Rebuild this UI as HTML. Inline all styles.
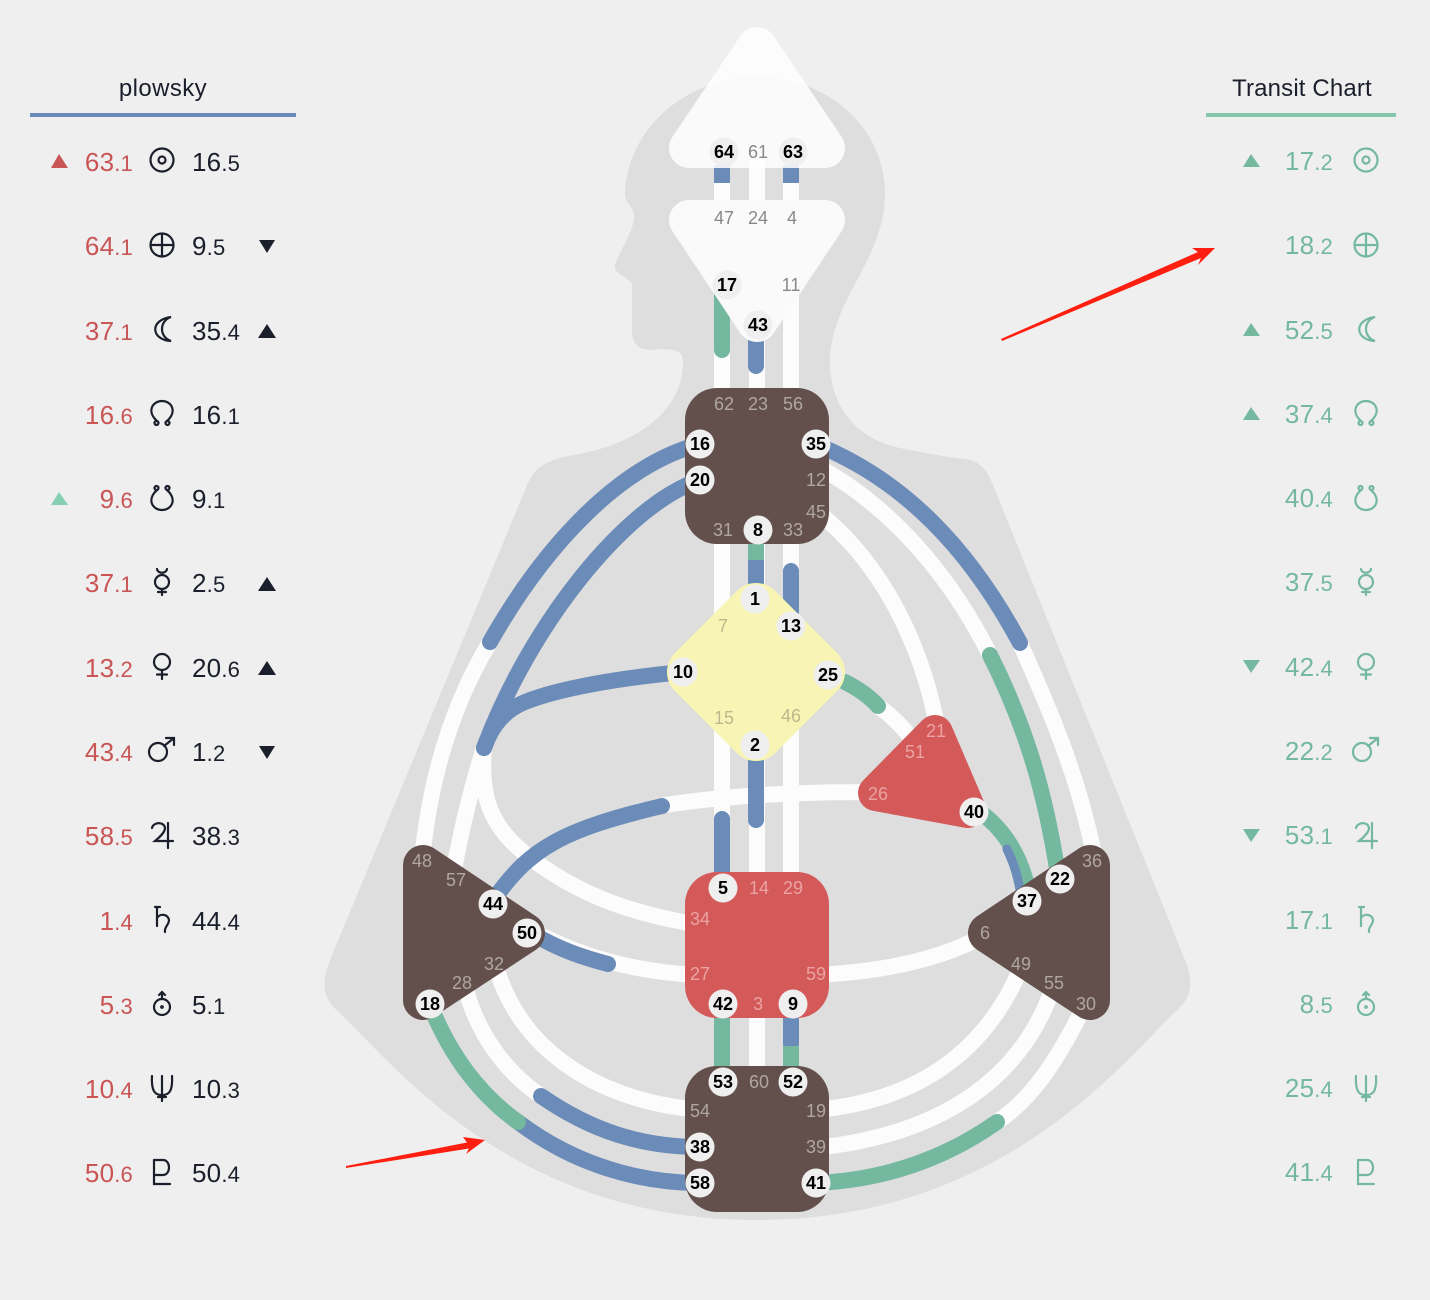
<!DOCTYPE html>
<html><head><meta charset="utf-8"><style>
html,body{margin:0;padding:0;background:#efefef}
svg{display:block}
text{font-family:"Liberation Sans",sans-serif}
.w{fill:none;stroke:#fcfcfc;stroke-width:16}
.b{fill:none;stroke:#6b8cb8;stroke-width:16;stroke-linecap:round}
.g{fill:none;stroke:#74b8a0;stroke-width:16;stroke-linecap:round}
.bb{fill:none;stroke:#6b8cb8;stroke-width:16}
.gb{fill:none;stroke:#74b8a0;stroke-width:16}
.on{font-weight:bold;font-size:18px;fill:#000;text-anchor:middle;dominant-baseline:central}
.off{font-size:18px;text-anchor:middle;dominant-baseline:central}
.l{fill:#c95555;font-size:26px;letter-spacing:.2px;text-anchor:end}
.r{fill:#74b8a0;font-size:26px;letter-spacing:.2px;text-anchor:end}
.v{fill:#1b1f2b;font-size:26px;letter-spacing:.2px}
.s{font-size:22px}
.ik{fill:none;stroke:#1b1f2b;stroke-width:2.2;stroke-linecap:round}
.ig{fill:none;stroke:#74b8a0;stroke-width:2.2;stroke-linecap:round}
</style></head><body>
<svg width="1430" height="1300" viewBox="0 0 1430 1300" xmlns="http://www.w3.org/2000/svg">
<rect width="1430" height="1300" fill="#efefef"/>
<path fill="#dedede" d="M757,77 C830,77 885,130 885,193 C885,260 830,300 830,362 C830,410 860,440 900,448 C925,453 945,457 965,459 C985,461 990,478 995,490 L1185,960 C1195,985 1190,1000 1175,1012 C1120,1065 1000,1220 757,1220 C514,1220 394,1065 339,1012 C324,1000 320,985 330,960 L528,483 C535,468 545,460 573,455 C620,448 683,420 683,362 C683,350 675,350 660,349 C645,351 632,350 632,330 L632,285 C632,278 615,275 615,267 C615,258 634,232 634,217 C634,205 625,205 625,193 C628,125 690,77 757,77 Z"/>

<!-- white channels -->
<g>
<path class="w" d="M722,160V210M757,160V210M791,160V210M722,300V400M757,320V400M791,280V400M722,530V885M757,530V885M791,530V885M722,1005V1075M757,1005V1075M791,1005V1075"/>
<path class="w" d="M490,642 C455,700 432,770 423,850"/>
<path class="w" d="M484,748 C472,785 462,825 452,880"/>
<path class="w" d="M484,748 C480,800 490,830 540,865 C590,900 640,915 700,925"/>
<path class="w" d="M497,895 C530,850 560,830 665,805 C730,795 800,792 870,792"/>
<path class="w" d="M540,935 C580,955 630,972 700,975"/>
<path class="w" d="M815,975 C880,972 940,960 985,935"/>
<path class="w" d="M466,990 C480,1040 510,1075 541,1096"/>
<path class="w" d="M497,970 C520,1045 590,1100 700,1110"/>
<path class="w" d="M1085,1005 C1055,1065 1030,1100 997,1122"/>
<path class="w" d="M1052,990 C1020,1080 940,1135 815,1148"/>
<path class="w" d="M1020,970 C990,1040 930,1100 815,1110"/>
<path class="w" d="M1095,860 C1080,780 1050,710 1020,643"/>
<path class="w" d="M815,465 C890,505 950,575 990,655"/>
<path class="w" d="M815,510 C880,560 920,640 937,725"/>
<path class="w" d="M878,706 C895,718 908,732 920,750"/>
</g>

<!-- coloured channels -->
<path class="bb" d="M722,165V183M791,165V183"/>
<path class="g" d="M722,290V350"/>
<path class="b" d="M756,320V366"/>
<path class="gb" d="M756,540V562"/>
<path class="bb" d="M756,560V595"/>
<path class="b" d="M791,571V625"/>
<path class="b" d="M756,755V820"/>
<path class="b" d="M722,819V885"/>
<path class="gb" d="M722,1015V1070"/>
<path class="b" d="M791,1015V1044"/>
<path class="gb" d="M791,1046V1070"/>
<path class="b" d="M700,444 C620,465 545,545 490,642"/>
<path class="b" d="M700,480 C625,505 530,625 484,748"/>
<path class="b" d="M683,672 C620,678 560,688 525,702 C505,710 492,725 484,748"/>
<path class="b" d="M497,895 C530,850 560,830 662,806"/>
<path class="b" d="M535,935 C560,950 585,958 608,964"/>
<path class="b" d="M518,1122 C575,1165 640,1183 700,1183"/>
<path class="g" d="M430,1005 C450,1055 480,1095 518,1122"/>
<path class="b" d="M541,1096 C590,1130 640,1147 700,1147"/>
<path class="g" d="M815,1183 C890,1180 950,1155 997,1122"/>
<path class="b" d="M815,444 C905,480 970,550 1020,643"/>
<path class="g" d="M990,655 C1025,725 1045,790 1058,875"/>
<path class="g" d="M845,682 C855,687 868,695 878,706"/>
<path class="g" d="M980,812 C1005,830 1022,858 1029,895"/>
<path class="b" d="M1007,849 C1012,860 1017,872 1020,890" style="stroke-width:9"/>

<!-- centres -->
<g opacity=".85"><path fill="#fff" stroke="#fff" stroke-width="40" stroke-linejoin="round" d="M757,47 L825,148 L689,148 Z"/></g>
<path fill="#fafafa" stroke="#fafafa" stroke-width="40" stroke-linejoin="round" d="M689,220 L825,220 L757,322 Z"/>
<rect x="685" y="388" width="144" height="156" rx="32" fill="#63504c"/>
<path fill="#f8f5b4" stroke="#f8f5b4" stroke-width="54" stroke-linejoin="round" d="M756,610 L818,672 L756,734 L694,672 Z"/>
<path fill="#d45a5a" stroke="#d45a5a" stroke-width="36" stroke-linejoin="round" d="M935,733 L876,793 L968,810 Z"/>
<rect x="685" y="872" width="144" height="146" rx="32" fill="#d45a5a"/>
<rect x="685" y="1066" width="144" height="146" rx="32" fill="#63504c"/>
<path fill="#63504c" stroke="#63504c" stroke-width="40" stroke-linejoin="round" d="M423,865 L525,933 L423,1000 Z"/>
<path fill="#63504c" stroke="#63504c" stroke-width="40" stroke-linejoin="round" d="M1090,865 L988,933 L1090,1000 Z"/>

<!-- active gates -->
<g fill="#efefef">
<circle cx="724" cy="152" r="14.5"/><circle cx="793" cy="152" r="14.5"/><circle cx="727" cy="285" r="14.5"/><circle cx="758" cy="325" r="14.5"/>
<circle cx="700" cy="444" r="14.5"/><circle cx="816" cy="444" r="14.5"/><circle cx="700" cy="480" r="14.5"/><circle cx="758" cy="530" r="14.5"/>
<circle cx="755" cy="599" r="14.5"/><circle cx="791" cy="626" r="14.5"/><circle cx="683" cy="672" r="14.5"/><circle cx="828" cy="675" r="14.5"/><circle cx="755" cy="745" r="14.5"/>
<circle cx="974" cy="812" r="14.5"/><circle cx="723" cy="888" r="14.5"/><circle cx="723" cy="1004" r="14.5"/><circle cx="793" cy="1004" r="14.5"/>
<circle cx="723" cy="1082" r="14.5"/><circle cx="793" cy="1082" r="14.5"/><circle cx="700" cy="1147" r="14.5"/><circle cx="700" cy="1183" r="14.5"/><circle cx="816" cy="1183" r="14.5"/>
<circle cx="493" cy="904" r="14.5"/><circle cx="527" cy="933" r="14.5"/><circle cx="430" cy="1004" r="14.5"/><circle cx="1060" cy="879" r="14.5"/><circle cx="1027" cy="901" r="14.5"/>
</g>
<g>
<text class="on" x="724" y="152">64</text><text class="on" x="793" y="152">63</text><text class="on" x="727" y="285">17</text><text class="on" x="758" y="325">43</text>
<text class="on" x="700" y="444">16</text><text class="on" x="816" y="444">35</text><text class="on" x="700" y="480">20</text><text class="on" x="758" y="530">8</text>
<text class="on" x="755" y="599">1</text><text class="on" x="791" y="626">13</text><text class="on" x="683" y="672">10</text><text class="on" x="828" y="675">25</text><text class="on" x="755" y="745">2</text>
<text class="on" x="974" y="812">40</text><text class="on" x="723" y="888">5</text><text class="on" x="723" y="1004">42</text><text class="on" x="793" y="1004">9</text>
<text class="on" x="723" y="1082">53</text><text class="on" x="793" y="1082">52</text><text class="on" x="700" y="1147">38</text><text class="on" x="700" y="1183">58</text><text class="on" x="816" y="1183">41</text>
<text class="on" x="493" y="904">44</text><text class="on" x="527" y="933">50</text><text class="on" x="430" y="1004">18</text><text class="on" x="1060" y="879">22</text><text class="on" x="1027" y="901">37</text>
</g>
<!-- inactive gates -->
<g fill="#888">
<text class="off" x="758" y="152">61</text><text class="off" x="724" y="218">47</text><text class="off" x="758" y="218">24</text><text class="off" x="792" y="218">4</text><text class="off" x="791" y="285">11</text>
</g>
<g fill="#b0a6a2">
<text class="off" x="724" y="404">62</text><text class="off" x="758" y="404">23</text><text class="off" x="793" y="404">56</text><text class="off" x="816" y="480">12</text><text class="off" x="816" y="512">45</text><text class="off" x="723" y="530">31</text><text class="off" x="793" y="530">33</text>
<text class="off" x="700" y="1111">54</text><text class="off" x="759" y="1082">60</text><text class="off" x="816" y="1111">19</text><text class="off" x="816" y="1147">39</text>
<text class="off" x="422" y="861">48</text><text class="off" x="456" y="880">57</text><text class="off" x="494" y="964">32</text><text class="off" x="462" y="983">28</text>
<text class="off" x="1092" y="861">36</text><text class="off" x="985" y="933">6</text><text class="off" x="1021" y="964">49</text><text class="off" x="1054" y="983">55</text><text class="off" x="1086" y="1004">30</text>
</g>
<g fill="#bdb88c">
<text class="off" x="723" y="626">7</text><text class="off" x="724" y="718">15</text><text class="off" x="791" y="716">46</text>
</g>
<g fill="#eba3a3">
<text class="off" x="936" y="731">21</text><text class="off" x="915" y="752">51</text><text class="off" x="878" y="794">26</text>
<text class="off" x="759" y="888">14</text><text class="off" x="793" y="888">29</text><text class="off" x="700" y="919">34</text><text class="off" x="700" y="974">27</text><text class="off" x="816" y="974">59</text><text class="off" x="758" y="1004">3</text>
</g>

<!-- red arrows -->
<path fill="#ff1f10" d="M1002,341 L1001,339 L1198,252 L1192,248 L1215,248 L1198,265 L1201,258 Z"/>
<path fill="#ff1f10" d="M346,1168 L346,1166 L467,1142.5 L463,1137 L485,1140 L466,1154 L469,1148.5 Z"/>

<!-- headers -->
<text x="163" y="96" font-size="24" letter-spacing=".4" fill="#1b1f2b" text-anchor="middle">plowsky</text>
<rect x="30" y="113" width="266" height="4" fill="#6b8cb8"/>
<text x="1302" y="96" font-size="24" letter-spacing=".15" fill="#1b1f2b" text-anchor="middle">Transit Chart</text>
<rect x="1206" y="113" width="190" height="4" fill="#85c7ad"/>

<!-- left numbers -->
<text class="l" x="133" y="171">63<tspan class="s">.1</tspan></text>
<text class="l" x="133" y="255">64<tspan class="s">.1</tspan></text>
<text class="l" x="133" y="340">37<tspan class="s">.1</tspan></text>
<text class="l" x="133" y="424">16<tspan class="s">.6</tspan></text>
<text class="l" x="133" y="508">9<tspan class="s">.6</tspan></text>
<text class="l" x="133" y="592">37<tspan class="s">.1</tspan></text>
<text class="l" x="133" y="677">13<tspan class="s">.2</tspan></text>
<text class="l" x="133" y="761">43<tspan class="s">.4</tspan></text>
<text class="l" x="133" y="845">58<tspan class="s">.5</tspan></text>
<text class="l" x="133" y="930">1<tspan class="s">.4</tspan></text>
<text class="l" x="133" y="1014">5<tspan class="s">.3</tspan></text>
<text class="l" x="133" y="1098">10<tspan class="s">.4</tspan></text>
<text class="l" x="133" y="1182">50<tspan class="s">.6</tspan></text>

<text class="v" x="192" y="171">16<tspan class="s">.5</tspan></text>
<text class="v" x="192" y="255">9<tspan class="s">.5</tspan></text>
<text class="v" x="192" y="340">35<tspan class="s">.4</tspan></text>
<text class="v" x="192" y="424">16<tspan class="s">.1</tspan></text>
<text class="v" x="192" y="508">9<tspan class="s">.1</tspan></text>
<text class="v" x="192" y="592">2<tspan class="s">.5</tspan></text>
<text class="v" x="192" y="677">20<tspan class="s">.6</tspan></text>
<text class="v" x="192" y="761">1<tspan class="s">.2</tspan></text>
<text class="v" x="192" y="845">38<tspan class="s">.3</tspan></text>
<text class="v" x="192" y="930">44<tspan class="s">.4</tspan></text>
<text class="v" x="192" y="1014">5<tspan class="s">.1</tspan></text>
<text class="v" x="192" y="1098">10<tspan class="s">.3</tspan></text>
<text class="v" x="192" y="1182">50<tspan class="s">.4</tspan></text>

<!-- right numbers -->
<text class="r" x="1333" y="170">17<tspan class="s">.2</tspan></text>
<text class="r" x="1333" y="254">18<tspan class="s">.2</tspan></text>
<text class="r" x="1333" y="339">52<tspan class="s">.5</tspan></text>
<text class="r" x="1333" y="423">37<tspan class="s">.4</tspan></text>
<text class="r" x="1333" y="507">40<tspan class="s">.4</tspan></text>
<text class="r" x="1333" y="591">37<tspan class="s">.5</tspan></text>
<text class="r" x="1333" y="676">42<tspan class="s">.4</tspan></text>
<text class="r" x="1333" y="760">22<tspan class="s">.2</tspan></text>
<text class="r" x="1333" y="844">53<tspan class="s">.1</tspan></text>
<text class="r" x="1333" y="929">17<tspan class="s">.1</tspan></text>
<text class="r" x="1333" y="1013">8<tspan class="s">.5</tspan></text>
<text class="r" x="1333" y="1097">25<tspan class="s">.4</tspan></text>
<text class="r" x="1333" y="1181">41<tspan class="s">.4</tspan></text>

<!-- triangles -->
<path fill="#c95555" d="M59,154 L68,168 L51,168 Z"/>
<path fill="#85cfb3" d="M59,492 L68,505 L51,505 Z"/>
<path fill="#1b1f2b" d="M259,240 L275,240 L267,253 Z"/>
<path fill="#1b1f2b" d="M267,324 L276,338 L258,338 Z"/>
<path fill="#1b1f2b" d="M267,577 L276,591 L258,591 Z"/>
<path fill="#1b1f2b" d="M267,661 L276,675 L258,675 Z"/>
<path fill="#1b1f2b" d="M259,746 L275,746 L267,759 Z"/>
<g fill="#74b8a0">
<path d="M1251,154 L1260,167 L1243,167 Z"/>
<path d="M1251,323 L1260,336 L1243,336 Z"/>
<path d="M1251,407 L1260,420 L1243,420 Z"/>
<path d="M1243,660 L1260,660 L1251,673 Z"/>
<path d="M1243,829 L1260,829 L1251,842 Z"/>
</g>

<!-- left icons -->
<g class="ik">
<g transform="translate(162,160)"><circle r="11.5"/><circle r="3.5"/></g>
<g transform="translate(162,245)"><circle r="11.5"/><path d="M-11.5,0H11.5M0,-11.5V11.5"/></g>
<g transform="translate(162,329)"><path d="M9,-12 C-13,-9 -11,11 9,12 C-3,8 -3,-8 9,-12 Z"/></g>
<g transform="translate(162,413)"><path d="M-5,8 C-16,-2 -9,-12 0,-12 C9,-12 16,-2 5,8"/><circle cx="-5.5" cy="10" r="2"/><circle cx="5.5" cy="10" r="2"/></g>
<g transform="translate(162,498)"><path d="M-5,-8 C-16,2 -9,12 0,12 C9,12 16,2 5,-8"/><circle cx="-5.5" cy="-10" r="2"/><circle cx="5.5" cy="-10" r="2"/></g>
<g transform="translate(162,582)"><circle r="7"/><path d="M-5,-13 C-4,-8 4,-8 5,-13M0,7V13M-4,10H4"/></g>
<g transform="translate(162,666)"><circle cy="-4" r="8"/><path d="M0,4V13M-5,8.5H5"/></g>
<g transform="translate(162,750)"><circle cx="-4" cy="2" r="9"/><path d="M2,-4 L12,-12M4,-12H12V-5"/></g>
<g transform="translate(162,835)"><path d="M-10,-7 C-9,-13 2,-14 3,-7 C3,-3 -1,1 -7,6 H11M6,-12V13"/></g>
<g transform="translate(162,920)"><path d="M-5,-13V6M-7,-13H-2M-5,-2 C-2,-7 6,-6 7,0 C7,5 2,7 3,12"/></g>
<g transform="translate(162,1004)"><circle cy="3" r="8"/><circle cy="3" r=".8"/><path d="M0,-5V-12M-3,-9L0,-12L3,-9"/></g>
<g transform="translate(162,1088)"><path d="M-10,-12 C-11,6 -5,7 0,7 C5,7 11,6 10,-12M0,-12V13M-4,9H4"/></g>
<g transform="translate(162,1172)"><path d="M-8,-12V12H8M-8,-12H1 C9,-12 9,3 1,3 H-8"/></g>
</g>
<!-- right icons -->
<g class="ig">
<g transform="translate(1366,160)"><circle r="11.5"/><circle r="3.5"/></g>
<g transform="translate(1366,245)"><circle r="11.5"/><path d="M-11.5,0H11.5M0,-11.5V11.5"/></g>
<g transform="translate(1366,329)"><path d="M9,-12 C-13,-9 -11,11 9,12 C-3,8 -3,-8 9,-12 Z"/></g>
<g transform="translate(1366,413)"><path d="M-5,8 C-16,-2 -9,-12 0,-12 C9,-12 16,-2 5,8"/><circle cx="-5.5" cy="10" r="2"/><circle cx="5.5" cy="10" r="2"/></g>
<g transform="translate(1366,498)"><path d="M-5,-8 C-16,2 -9,12 0,12 C9,12 16,2 5,-8"/><circle cx="-5.5" cy="-10" r="2"/><circle cx="5.5" cy="-10" r="2"/></g>
<g transform="translate(1366,582)"><circle r="7"/><path d="M-5,-13 C-4,-8 4,-8 5,-13M0,7V13M-4,10H4"/></g>
<g transform="translate(1366,666)"><circle cy="-4" r="8"/><path d="M0,4V13M-5,8.5H5"/></g>
<g transform="translate(1366,750)"><circle cx="-4" cy="2" r="9"/><path d="M2,-4 L12,-12M4,-12H12V-5"/></g>
<g transform="translate(1366,835)"><path d="M-10,-7 C-9,-13 2,-14 3,-7 C3,-3 -1,1 -7,6 H11M6,-12V13"/></g>
<g transform="translate(1366,920)"><path d="M-5,-13V6M-7,-13H-2M-5,-2 C-2,-7 6,-6 7,0 C7,5 2,7 3,12"/></g>
<g transform="translate(1366,1004)"><circle cy="3" r="8"/><circle cy="3" r=".8"/><path d="M0,-5V-12M-3,-9L0,-12L3,-9"/></g>
<g transform="translate(1366,1088)"><path d="M-10,-12 C-11,6 -5,7 0,7 C5,7 11,6 10,-12M0,-12V13M-4,9H4"/></g>
<g transform="translate(1366,1172)"><path d="M-8,-12V12H8M-8,-12H1 C9,-12 9,3 1,3 H-8"/></g>
</g>
</svg>
</body></html>
